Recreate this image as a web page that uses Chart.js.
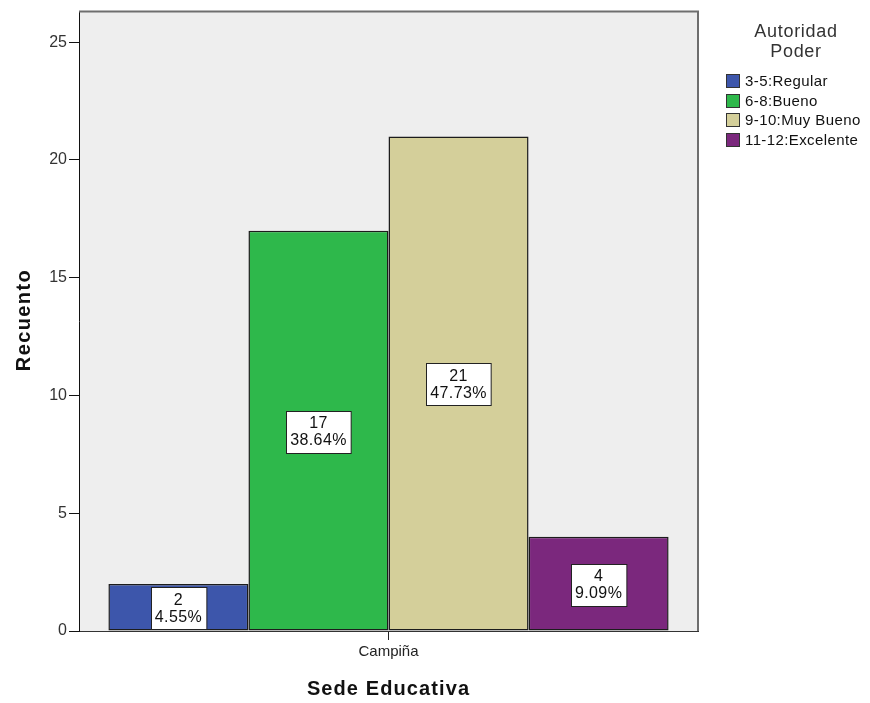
<!DOCTYPE html>
<html>
<head>
<meta charset="utf-8">
<script src="https://cdn.jsdelivr.net/npm/chart.js@4"></script>
<style>
  html, body { margin: 0; padding: 0; background: #fff; }
  #wrap { width: 870px; height: 703px; position: relative; }
</style>
</head>
<body>
<div id="wrap"><canvas id="chart"></canvas></div>
<script>
  const categories = ["Campiña"];
  const seriesLabels = ["3-5:Regular", "6-8:Bueno", "9-10:Muy Bueno", "11-12:Excelente"];
  const counts = [2, 17, 21, 4];
  const percents = ["4.55%", "38.64%", "47.73%", "9.09%"];
  const yTicks = [0, 5, 10, 15, 20, 25];
  const legendTitle = ["Autoridad", "Poder"];
  const xTitle = "Sede Educativa";
  const yTitle = "Recuento";

  const COLORS = ["#3d56ab", "#2eb84b", "#d4cf9a", "#7b287d"];
  const FONT = "'Liberation Sans', Arial, sans-serif";

  const datasets = seriesLabels.map((label, i) => ({
    label,
    data: [counts[i]],
    backgroundColor: COLORS[i],
    borderColor: "#1c1c1c",
    borderWidth: 1.5,
    borderSkipped: false,
    categoryPercentage: 0.905,
    barPercentage: 1,
  }));

  // plot background + top/right frame
  const frame = {
    id: "frame",
    beforeDraw(chart) {
      const { ctx, chartArea: a } = chart;
      ctx.save();
      ctx.fillStyle = "#eeeeee";
      ctx.fillRect(a.left, a.top, a.right - a.left, a.bottom - a.top);
      ctx.restore();
    },
    afterDraw(chart) {
      const { ctx, chartArea: a } = chart;
      ctx.save();
      ctx.strokeStyle = "#6e6e6e";
      ctx.lineWidth = 2;
      ctx.beginPath();
      ctx.moveTo(a.left, a.top);
      ctx.lineTo(a.right, a.top);
      ctx.lineTo(a.right, a.bottom);
      ctx.stroke();
      ctx.restore();
    },
  };

  // boxed count / percent labels in the middle of each bar
  const boxLabels = {
    id: "boxLabels",
    afterDatasetsDraw(chart) {
      const { ctx } = chart;
      ctx.save();
      ctx.font = `16px ${FONT}`;
      ctx.letterSpacing = "0.4px";
      ctx.textAlign = "center";
      ctx.textBaseline = "middle";
      chart.data.datasets.forEach((ds, i) => {
        const bar = chart.getDatasetMeta(i).data[0];
        const cx = bar.x;
        const cy = (bar.y + bar.base) / 2 + 1;
        const lines = [String(counts[i]), percents[i]];
        const w = Math.max(...lines.map(t => ctx.measureText(t).width)) + 8;
        const h = 42;
        const x0 = Math.round(cx - w / 2) + 0.5, y0 = Math.round(cy - h / 2) + 0.5;
        ctx.fillStyle = "#fff";
        ctx.fillRect(x0, y0, w, h);
        ctx.strokeStyle = "#222";
        ctx.lineWidth = 1;
        ctx.strokeRect(x0, y0, w, h);
        ctx.fillStyle = "#111";
        ctx.fillText(lines[0], cx, cy - 8);
        ctx.fillText(lines[1], cx, cy + 9);
      });
      ctx.restore();
    },
  };

  // legend and axis titles
  const extras = {
    id: "extras",
    afterDraw(chart) {
      const { ctx, chartArea: a } = chart;
      ctx.save();
      ctx.fillStyle = "#333";
      ctx.font = `18px ${FONT}`;
      ctx.letterSpacing = "0.7px";
      ctx.textAlign = "center";
      ctx.textBaseline = "middle";
      ctx.fillText(legendTitle[0], 796, 32);
      ctx.fillText(legendTitle[1], 796, 52);
      ctx.font = `15px ${FONT}`;
      ctx.letterSpacing = "0.4px";
      ctx.textAlign = "left";
      chart.data.datasets.forEach((ds, i) => {
        const y = Math.round(81 + i * 19.7);
        ctx.fillStyle = ds.backgroundColor;
        ctx.fillRect(726, y - 7, 14, 14);
        ctx.strokeStyle = "#333";
        ctx.lineWidth = 1;
        ctx.strokeRect(726.5, y - 6.5, 13, 13);
        ctx.fillStyle = "#111";
        ctx.fillText(ds.label, 745, y + 1);
      });

      ctx.fillStyle = "#111";
      ctx.font = `bold 20px ${FONT}`;
      ctx.letterSpacing = "1.1px";
      ctx.textAlign = "center";
      ctx.fillText(xTitle, (a.left + a.right) / 2, 689);
      ctx.translate(24, 320);
      ctx.rotate(-Math.PI / 2);
      ctx.letterSpacing = "1.4px";
      ctx.fillText(yTitle, 0, 0);
      ctx.restore();
    },
  };

  new Chart(document.getElementById("chart"), {
    type: "bar",
    data: { labels: categories, datasets },
    plugins: [frame, boxLabels, extras],
    options: {
      animation: false,
      responsive: true,
      maintainAspectRatio: false,
      layout: { padding: { top: 10, right: 172, left: 0, bottom: 0 } },
      plugins: { legend: { display: false }, tooltip: { enabled: false } },
      scales: {
        x: {
          afterFit: (s) => { s.height = 72; },
          grid: { drawOnChartArea: false, offset: false, tickLength: 9, color: "#222" },
          border: { display: true, color: "#333", width: 1 },
          ticks: { color: "#222", font: { family: FONT, size: 15 }, padding: 3 },
        },
        y: {
          min: 0,
          max: 26.3,
          afterFit: (s) => { s.width = 79; },
          afterBuildTicks: (s) => { s.ticks = yTicks.map(v => ({ value: v })); },
          grid: { drawOnChartArea: false, tickLength: 10, color: "#111" },
          border: { display: true, color: "#111", width: 1 },
          ticks: { color: "#333", font: { family: FONT, size: 16 }, padding: 2 },
        },
      },
    },
  });
</script>
</body>
</html>
